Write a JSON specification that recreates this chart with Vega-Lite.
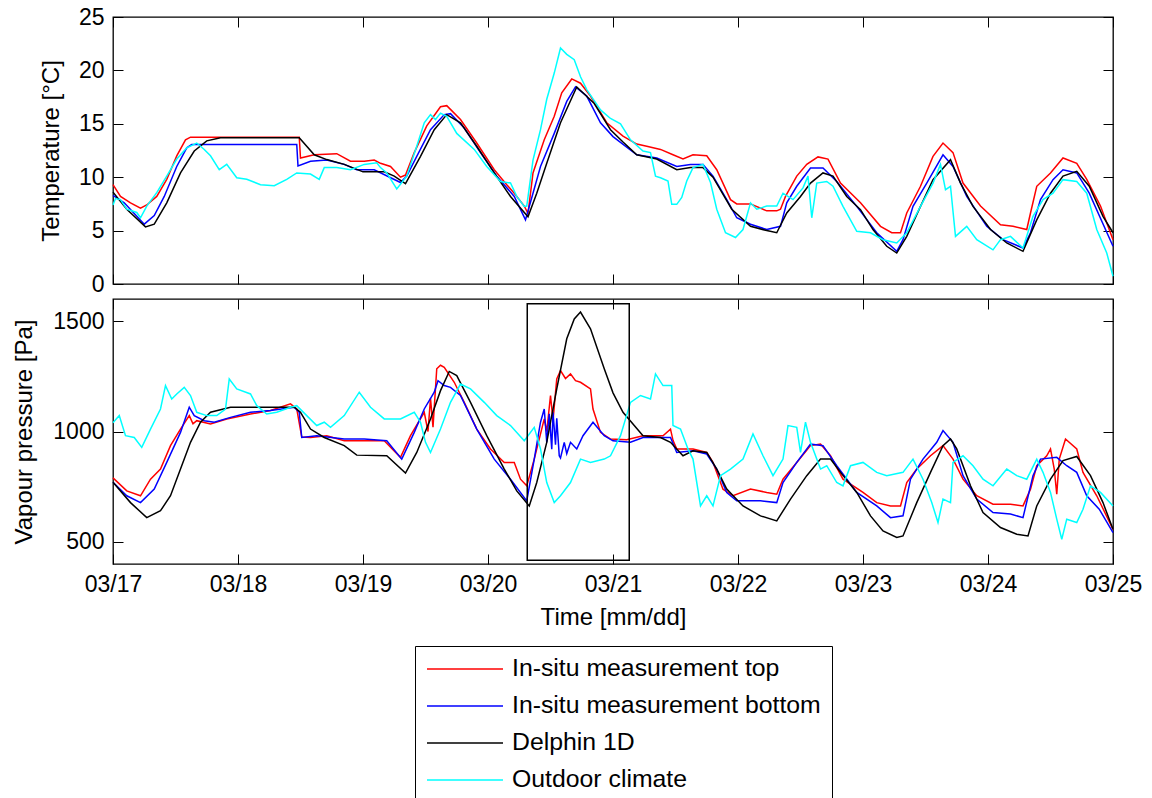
{
"$schema": "https://vega.github.io/schema/vega-lite/v6.json",
"padding": {"left": 12, "top": 5, "right": 5, "bottom": 2},
"spacing": 0,
"datasets": {
"T": [
{"s":"t","d":0,"v":9.3},{"s":"t","d":0.06,"v":8.2},{"s":"t","d":0.14,"v":7.6},{"s":"t","d":0.22,"v":7.1},{"s":"t","d":0.27,"v":7.4},{"s":"t","d":0.35,"v":8.2},{"s":"t","d":0.43,"v":9.8},{"s":"t","d":0.51,"v":12.0},{"s":"t","d":0.58,"v":13.5},{"s":"t","d":0.62,"v":13.75},{"s":"t","d":1.0,"v":13.75},{"s":"t","d":1.49,"v":13.75},{"s":"t","d":1.5,"v":11.8},{"s":"t","d":1.61,"v":12.1},{"s":"t","d":1.79,"v":12.2},{"s":"t","d":1.9,"v":11.5},{"s":"t","d":2.01,"v":11.5},{"s":"t","d":2.09,"v":11.6},{"s":"t","d":2.14,"v":11.3},{"s":"t","d":2.22,"v":11.0},{"s":"t","d":2.3,"v":10.0},{"s":"t","d":2.34,"v":10.2},{"s":"t","d":2.41,"v":12.3},{"s":"t","d":2.51,"v":14.8},{"s":"t","d":2.62,"v":16.6},{"s":"t","d":2.67,"v":16.7},{"s":"t","d":2.78,"v":15.4},{"s":"t","d":2.91,"v":13.2},{"s":"t","d":3.05,"v":10.7},{"s":"t","d":3.15,"v":9.3},{"s":"t","d":3.21,"v":8.5},{"s":"t","d":3.29,"v":7.3},{"s":"t","d":3.32,"v":6.6},{"s":"t","d":3.36,"v":10.4},{"s":"t","d":3.45,"v":13.5},{"s":"t","d":3.53,"v":15.7},{"s":"t","d":3.59,"v":17.9},{"s":"t","d":3.67,"v":19.2},{"s":"t","d":3.74,"v":18.8},{"s":"t","d":3.82,"v":17.6},{"s":"t","d":3.95,"v":15.1},{"s":"t","d":4.08,"v":13.85},{"s":"t","d":4.19,"v":13.1},{"s":"t","d":4.27,"v":12.9},{"s":"t","d":4.38,"v":12.6},{"s":"t","d":4.48,"v":12.1},{"s":"t","d":4.56,"v":11.7},{"s":"t","d":4.64,"v":12.1},{"s":"t","d":4.75,"v":12.0},{"s":"t","d":4.83,"v":10.7},{"s":"t","d":4.94,"v":7.9},{"s":"t","d":4.99,"v":7.5},{"s":"t","d":5.1,"v":7.5},{"s":"t","d":5.23,"v":6.85},{"s":"t","d":5.31,"v":6.85},{"s":"t","d":5.34,"v":7.0},{"s":"t","d":5.38,"v":8.2},{"s":"t","d":5.47,"v":10.1},{"s":"t","d":5.55,"v":11.2},{"s":"t","d":5.64,"v":11.9},{"s":"t","d":5.72,"v":11.7},{"s":"t","d":5.82,"v":9.45},{"s":"t","d":5.98,"v":7.6},{"s":"t","d":6.14,"v":5.4},{"s":"t","d":6.23,"v":4.8},{"s":"t","d":6.3,"v":4.8},{"s":"t","d":6.35,"v":6.65},{"s":"t","d":6.46,"v":9.15},{"s":"t","d":6.56,"v":11.95},{"s":"t","d":6.64,"v":13.2},{"s":"t","d":6.72,"v":12.3},{"s":"t","d":6.8,"v":9.45},{"s":"t","d":6.94,"v":7.3},{"s":"t","d":7.1,"v":5.55},{"s":"t","d":7.2,"v":5.4},{"s":"t","d":7.31,"v":5.1},{"s":"t","d":7.34,"v":6.65},{"s":"t","d":7.39,"v":9.15},{"s":"t","d":7.5,"v":10.4},{"s":"t","d":7.6,"v":11.8},{"s":"t","d":7.71,"v":11.3},{"s":"t","d":7.79,"v":9.8},{"s":"t","d":7.9,"v":7.3},{"s":"t","d":8.0,"v":4.15},
{"s":"b","d":0,"v":8.3},{"s":"b","d":0.09,"v":7.6},{"s":"b","d":0.25,"v":5.6},{"s":"b","d":0.33,"v":6.4},{"s":"b","d":0.41,"v":8.2},{"s":"b","d":0.51,"v":11.0},{"s":"b","d":0.59,"v":12.75},{"s":"b","d":0.63,"v":13.07},{"s":"b","d":1.47,"v":13.07},{"s":"b","d":1.48,"v":11.05},{"s":"b","d":1.58,"v":11.5},{"s":"b","d":1.71,"v":11.6},{"s":"b","d":1.85,"v":11.2},{"s":"b","d":1.95,"v":10.7},{"s":"b","d":2.09,"v":10.7},{"s":"b","d":2.3,"v":9.5},{"s":"b","d":2.35,"v":10.1},{"s":"b","d":2.43,"v":11.95},{"s":"b","d":2.54,"v":14.45},{"s":"b","d":2.65,"v":15.86},{"s":"b","d":2.7,"v":15.95},{"s":"b","d":2.81,"v":14.6},{"s":"b","d":2.94,"v":12.3},{"s":"b","d":3.07,"v":10.1},{"s":"b","d":3.21,"v":8.2},{"s":"b","d":3.3,"v":6.0},{"s":"b","d":3.36,"v":8.5},{"s":"b","d":3.42,"v":11.0},{"s":"b","d":3.53,"v":14.1},{"s":"b","d":3.63,"v":17.1},{"s":"b","d":3.7,"v":18.45},{"s":"b","d":3.79,"v":17.6},{"s":"b","d":3.9,"v":15.1},{"s":"b","d":4.0,"v":13.8},{"s":"b","d":4.19,"v":12.1},{"s":"b","d":4.35,"v":11.8},{"s":"b","d":4.51,"v":11.0},{"s":"b","d":4.62,"v":11.2},{"s":"b","d":4.72,"v":11.2},{"s":"b","d":4.8,"v":10.1},{"s":"b","d":4.91,"v":7.9},{"s":"b","d":4.99,"v":6.2},{"s":"b","d":5.1,"v":5.6},{"s":"b","d":5.23,"v":5.1},{"s":"b","d":5.34,"v":5.4},{"s":"b","d":5.39,"v":7.6},{"s":"b","d":5.47,"v":9.15},{"s":"b","d":5.58,"v":10.86},{"s":"b","d":5.68,"v":10.86},{"s":"b","d":5.79,"v":9.6},{"s":"b","d":5.95,"v":7.27},{"s":"b","d":6.11,"v":4.8},{"s":"b","d":6.27,"v":3.06},{"s":"b","d":6.32,"v":4.15},{"s":"b","d":6.4,"v":7.27},{"s":"b","d":6.51,"v":9.45},{"s":"b","d":6.64,"v":12.1},{"s":"b","d":6.72,"v":11.0},{"s":"b","d":6.83,"v":8.2},{"s":"b","d":6.99,"v":5.4},{"s":"b","d":7.12,"v":4.15},{"s":"b","d":7.28,"v":3.37},{"s":"b","d":7.34,"v":4.8},{"s":"b","d":7.42,"v":7.9},{"s":"b","d":7.52,"v":9.77},{"s":"b","d":7.6,"v":10.7},{"s":"b","d":7.71,"v":10.4},{"s":"b","d":7.81,"v":8.5},{"s":"b","d":8.0,"v":3.53},
{"s":"c","d":0,"v":8.6},{"s":"c","d":0.11,"v":7.0},{"s":"c","d":0.26,"v":5.35},{"s":"c","d":0.33,"v":5.6},{"s":"c","d":0.43,"v":7.6},{"s":"c","d":0.54,"v":10.4},{"s":"c","d":0.65,"v":12.45},{"s":"c","d":0.75,"v":13.4},{"s":"c","d":0.86,"v":13.7},{"s":"c","d":1.49,"v":13.7},{"s":"c","d":1.61,"v":12.1},{"s":"c","d":1.71,"v":11.65},{"s":"c","d":1.85,"v":11.2},{"s":"c","d":2.0,"v":10.5},{"s":"c","d":2.17,"v":10.5},{"s":"c","d":2.25,"v":10.1},{"s":"c","d":2.34,"v":9.4},{"s":"c","d":2.46,"v":11.95},{"s":"c","d":2.57,"v":14.45},{"s":"c","d":2.67,"v":15.86},{"s":"c","d":2.78,"v":15.1},{"s":"c","d":2.91,"v":12.9},{"s":"c","d":3.05,"v":10.4},{"s":"c","d":3.18,"v":8.2},{"s":"c","d":3.32,"v":6.3},{"s":"c","d":3.39,"v":8.5},{"s":"c","d":3.47,"v":11.3},{"s":"c","d":3.58,"v":15.1},{"s":"c","d":3.71,"v":18.45},{"s":"c","d":3.85,"v":16.9},{"s":"c","d":3.98,"v":14.45},{"s":"c","d":4.08,"v":13.3},{"s":"c","d":4.19,"v":12.1},{"s":"c","d":4.35,"v":11.7},{"s":"c","d":4.51,"v":10.7},{"s":"c","d":4.62,"v":10.9},{"s":"c","d":4.72,"v":10.9},{"s":"c","d":4.8,"v":10.0},{"s":"c","d":4.95,"v":7.0},{"s":"c","d":5.1,"v":5.4},{"s":"c","d":5.23,"v":5.0},{"s":"c","d":5.31,"v":4.8},{"s":"c","d":5.39,"v":6.65},{"s":"c","d":5.5,"v":8.2},{"s":"c","d":5.58,"v":9.45},{"s":"c","d":5.68,"v":10.4},{"s":"c","d":5.76,"v":10.1},{"s":"c","d":5.87,"v":8.2},{"s":"c","d":5.98,"v":6.96},{"s":"c","d":6.08,"v":5.1},{"s":"c","d":6.19,"v":3.53},{"s":"c","d":6.27,"v":2.9},{"s":"c","d":6.35,"v":4.46},{"s":"c","d":6.46,"v":7.27},{"s":"c","d":6.56,"v":9.77},{"s":"c","d":6.7,"v":11.64},{"s":"c","d":6.78,"v":9.45},{"s":"c","d":6.88,"v":7.27},{"s":"c","d":7.02,"v":5.1},{"s":"c","d":7.15,"v":3.84},{"s":"c","d":7.28,"v":3.06},{"s":"c","d":7.39,"v":6.0},{"s":"c","d":7.5,"v":8.5},{"s":"c","d":7.6,"v":10.1},{"s":"c","d":7.71,"v":10.55},{"s":"c","d":7.81,"v":9.15},{"s":"c","d":7.92,"v":6.34},{"s":"c","d":8.0,"v":4.8},
{"s":"o","d":0,"v":7.4},{"s":"o","d":0.02,"v":8.0},{"s":"o","d":0.06,"v":7.9},{"s":"o","d":0.11,"v":7.0},{"s":"o","d":0.19,"v":6.7},{"s":"o","d":0.22,"v":6.2},{"s":"o","d":0.27,"v":7.3},{"s":"o","d":0.35,"v":8.55},{"s":"o","d":0.43,"v":10.1},{"s":"o","d":0.51,"v":11.7},{"s":"o","d":0.59,"v":12.75},{"s":"o","d":0.67,"v":13.2},{"s":"o","d":0.73,"v":12.6},{"s":"o","d":0.78,"v":12.0},{"s":"o","d":0.85,"v":10.7},{"s":"o","d":0.91,"v":11.2},{"s":"o","d":0.99,"v":9.95},{"s":"o","d":1.07,"v":9.8},{"s":"o","d":1.18,"v":9.3},{"s":"o","d":1.29,"v":9.2},{"s":"o","d":1.39,"v":9.8},{"s":"o","d":1.47,"v":10.4},{"s":"o","d":1.58,"v":10.3},{"s":"o","d":1.65,"v":9.8},{"s":"o","d":1.69,"v":10.9},{"s":"o","d":1.79,"v":10.9},{"s":"o","d":1.9,"v":10.7},{"s":"o","d":2.01,"v":11.2},{"s":"o","d":2.11,"v":11.35},{"s":"o","d":2.14,"v":10.9},{"s":"o","d":2.19,"v":10.4},{"s":"o","d":2.27,"v":8.9},{"s":"o","d":2.35,"v":10.1},{"s":"o","d":2.43,"v":12.9},{"s":"o","d":2.49,"v":15.1},{"s":"o","d":2.54,"v":15.86},{"s":"o","d":2.58,"v":15.4},{"s":"o","d":2.62,"v":16.0},{"s":"o","d":2.67,"v":15.7},{"s":"o","d":2.75,"v":14.1},{"s":"o","d":2.89,"v":12.6},{"s":"o","d":2.99,"v":11.0},{"s":"o","d":3.1,"v":9.6},{"s":"o","d":3.18,"v":9.46},{"s":"o","d":3.23,"v":8.2},{"s":"o","d":3.29,"v":7.27},{"s":"o","d":3.31,"v":7.3},{"s":"o","d":3.36,"v":11.6},{"s":"o","d":3.42,"v":14.45},{"s":"o","d":3.47,"v":17.3},{"s":"o","d":3.53,"v":19.75},{"s":"o","d":3.58,"v":22.1},{"s":"o","d":3.63,"v":21.5},{"s":"o","d":3.69,"v":21.0},{"s":"o","d":3.74,"v":19.4},{"s":"o","d":3.79,"v":18.2},{"s":"o","d":3.9,"v":16.3},{"s":"o","d":3.98,"v":15.5},{"s":"o","d":4.06,"v":15.0},{"s":"o","d":4.14,"v":13.5},{"s":"o","d":4.24,"v":12.45},{"s":"o","d":4.3,"v":12.3},{"s":"o","d":4.34,"v":10.1},{"s":"o","d":4.38,"v":9.95},{"s":"o","d":4.44,"v":9.64},{"s":"o","d":4.47,"v":7.46},{"s":"o","d":4.51,"v":7.46},{"s":"o","d":4.55,"v":8.1},{"s":"o","d":4.59,"v":9.64},{"s":"o","d":4.64,"v":10.9},{"s":"o","d":4.72,"v":11.2},{"s":"o","d":4.78,"v":9.5},{"s":"o","d":4.83,"v":7.0},{"s":"o","d":4.9,"v":4.8},{"s":"o","d":4.98,"v":4.35},{"s":"o","d":5.04,"v":5.1},{"s":"o","d":5.1,"v":7.6},{"s":"o","d":5.15,"v":7.0},{"s":"o","d":5.23,"v":7.3},{"s":"o","d":5.31,"v":7.3},{"s":"o","d":5.36,"v":8.5},{"s":"o","d":5.44,"v":7.9},{"s":"o","d":5.52,"v":9.0},{"s":"o","d":5.56,"v":10.1},{"s":"o","d":5.59,"v":6.2},{"s":"o","d":5.63,"v":9.45},{"s":"o","d":5.71,"v":9.6},{"s":"o","d":5.76,"v":9.15},{"s":"o","d":5.84,"v":7.27},{"s":"o","d":5.95,"v":4.93},{"s":"o","d":6.06,"v":4.8},{"s":"o","d":6.16,"v":4.15},{"s":"o","d":6.27,"v":3.84},{"s":"o","d":6.35,"v":4.8},{"s":"o","d":6.46,"v":7.27},{"s":"o","d":6.56,"v":9.45},{"s":"o","d":6.62,"v":11.2},{"s":"o","d":6.66,"v":8.83},{"s":"o","d":6.7,"v":9.15},{"s":"o","d":6.74,"v":4.46},{"s":"o","d":6.83,"v":5.4},{"s":"o","d":6.91,"v":4.15},{"s":"o","d":7.04,"v":3.2},{"s":"o","d":7.1,"v":4.15},{"s":"o","d":7.18,"v":4.46},{"s":"o","d":7.28,"v":3.37},{"s":"o","d":7.36,"v":6.34},{"s":"o","d":7.44,"v":7.9},{"s":"o","d":7.52,"v":8.5},{"s":"o","d":7.6,"v":9.77},{"s":"o","d":7.71,"v":9.6},{"s":"o","d":7.79,"v":8.5},{"s":"o","d":7.87,"v":5.1},{"s":"o","d":7.95,"v":2.9},{"s":"o","d":8.0,"v":0.72}
],
"P": [
{"s":"t","d":0,"v":790},{"s":"t","d":0.11,"v":731},{"s":"t","d":0.22,"v":709},{"s":"t","d":0.3,"v":784},{"s":"t","d":0.38,"v":830},{"s":"t","d":0.46,"v":936},{"s":"t","d":0.54,"v":1011},{"s":"t","d":0.61,"v":1072},{"s":"t","d":0.64,"v":1035},{"s":"t","d":0.67,"v":1049},{"s":"t","d":0.78,"v":1034},{"s":"t","d":0.91,"v":1057},{"s":"t","d":1.1,"v":1079},{"s":"t","d":1.26,"v":1095},{"s":"t","d":1.42,"v":1125},{"s":"t","d":1.47,"v":1102},{"s":"t","d":1.51,"v":975},{"s":"t","d":1.58,"v":973},{"s":"t","d":1.71,"v":981},{"s":"t","d":1.85,"v":958},{"s":"t","d":2.01,"v":958},{"s":"t","d":2.17,"v":958},{"s":"t","d":2.3,"v":883},{"s":"t","d":2.38,"v":981},{"s":"t","d":2.49,"v":1087},{"s":"t","d":2.52,"v":1000},{"s":"t","d":2.54,"v":1150},{"s":"t","d":2.56,"v":1020},{"s":"t","d":2.59,"v":1284},{"s":"t","d":2.62,"v":1300},{"s":"t","d":2.65,"v":1291},{"s":"t","d":2.73,"v":1223},{"s":"t","d":2.81,"v":1132},{"s":"t","d":2.91,"v":1011},{"s":"t","d":3.02,"v":921},{"s":"t","d":3.13,"v":860},{"s":"t","d":3.21,"v":860},{"s":"t","d":3.26,"v":784},{"s":"t","d":3.31,"v":754},{"s":"t","d":3.37,"v":875},{"s":"t","d":3.45,"v":1057},{"s":"t","d":3.47,"v":1000},{"s":"t","d":3.5,"v":1163},{"s":"t","d":3.52,"v":1050},{"s":"t","d":3.55,"v":1238},{"s":"t","d":3.58,"v":1276},{"s":"t","d":3.62,"v":1240},{"s":"t","d":3.66,"v":1261},{"s":"t","d":3.7,"v":1230},{"s":"t","d":3.74,"v":1223},{"s":"t","d":3.82,"v":1193},{"s":"t","d":3.84,"v":1102},{"s":"t","d":3.9,"v":996},{"s":"t","d":3.98,"v":966},{"s":"t","d":4.11,"v":963},{"s":"t","d":4.24,"v":981},{"s":"t","d":4.4,"v":981},{"s":"t","d":4.46,"v":1011},{"s":"t","d":4.48,"v":960},{"s":"t","d":4.51,"v":921},{"s":"t","d":4.64,"v":921},{"s":"t","d":4.75,"v":905},{"s":"t","d":4.8,"v":860},{"s":"t","d":4.88,"v":739},{"s":"t","d":4.96,"v":709},{"s":"t","d":5.1,"v":739},{"s":"t","d":5.23,"v":724},{"s":"t","d":5.31,"v":716},{"s":"t","d":5.36,"v":784},{"s":"t","d":5.47,"v":860},{"s":"t","d":5.58,"v":936},{"s":"t","d":5.66,"v":943},{"s":"t","d":5.74,"v":890},{"s":"t","d":5.84,"v":784},{"s":"t","d":6.0,"v":724},{"s":"t","d":6.11,"v":678},{"s":"t","d":6.22,"v":663},{"s":"t","d":6.3,"v":663},{"s":"t","d":6.35,"v":769},{"s":"t","d":6.43,"v":830},{"s":"t","d":6.54,"v":890},{"s":"t","d":6.64,"v":936},{"s":"t","d":6.72,"v":875},{"s":"t","d":6.8,"v":784},{"s":"t","d":6.91,"v":709},{"s":"t","d":7.04,"v":671},{"s":"t","d":7.18,"v":671},{"s":"t","d":7.28,"v":663},{"s":"t","d":7.34,"v":739},{"s":"t","d":7.39,"v":845},{"s":"t","d":7.47,"v":890},{"s":"t","d":7.5,"v":921},{"s":"t","d":7.53,"v":830},{"s":"t","d":7.55,"v":716},{"s":"t","d":7.57,"v":875},{"s":"t","d":7.62,"v":966},{"s":"t","d":7.71,"v":921},{"s":"t","d":7.76,"v":815},{"s":"t","d":7.87,"v":709},{"s":"t","d":8.0,"v":557},
{"s":"b","d":0,"v":770},{"s":"b","d":0.11,"v":709},{"s":"b","d":0.22,"v":678},{"s":"b","d":0.33,"v":739},{"s":"b","d":0.43,"v":860},{"s":"b","d":0.54,"v":996},{"s":"b","d":0.61,"v":1110},{"s":"b","d":0.65,"v":1072},{"s":"b","d":0.73,"v":1049},{"s":"b","d":0.81,"v":1042},{"s":"b","d":0.94,"v":1064},{"s":"b","d":1.1,"v":1087},{"s":"b","d":1.26,"v":1095},{"s":"b","d":1.45,"v":1110},{"s":"b","d":1.49,"v":1087},{"s":"b","d":1.51,"v":973},{"s":"b","d":1.63,"v":981},{"s":"b","d":1.85,"v":966},{"s":"b","d":2.01,"v":966},{"s":"b","d":2.19,"v":958},{"s":"b","d":2.31,"v":875},{"s":"b","d":2.41,"v":996},{"s":"b","d":2.49,"v":1102},{"s":"b","d":2.57,"v":1178},{"s":"b","d":2.6,"v":1230},{"s":"b","d":2.65,"v":1208},{"s":"b","d":2.7,"v":1200},{"s":"b","d":2.78,"v":1163},{"s":"b","d":2.91,"v":1011},{"s":"b","d":3.05,"v":875},{"s":"b","d":3.18,"v":784},{"s":"b","d":3.31,"v":686},{"s":"b","d":3.37,"v":875},{"s":"b","d":3.42,"v":1042},{"s":"b","d":3.45,"v":1102},{"s":"b","d":3.47,"v":950},{"s":"b","d":3.49,"v":1080},{"s":"b","d":3.51,"v":920},{"s":"b","d":3.52,"v":1087},{"s":"b","d":3.54,"v":940},{"s":"b","d":3.55,"v":1060},{"s":"b","d":3.57,"v":890},{"s":"b","d":3.58,"v":880},{"s":"b","d":3.61,"v":951},{"s":"b","d":3.63,"v":900},{"s":"b","d":3.66,"v":951},{"s":"b","d":3.71,"v":921},{"s":"b","d":3.76,"v":981},{"s":"b","d":3.84,"v":1042},{"s":"b","d":3.93,"v":981},{"s":"b","d":4.0,"v":958},{"s":"b","d":4.14,"v":951},{"s":"b","d":4.24,"v":973},{"s":"b","d":4.46,"v":973},{"s":"b","d":4.51,"v":905},{"s":"b","d":4.64,"v":913},{"s":"b","d":4.75,"v":898},{"s":"b","d":4.83,"v":830},{"s":"b","d":4.91,"v":724},{"s":"b","d":4.99,"v":686},{"s":"b","d":5.18,"v":686},{"s":"b","d":5.31,"v":678},{"s":"b","d":5.36,"v":769},{"s":"b","d":5.47,"v":860},{"s":"b","d":5.58,"v":943},{"s":"b","d":5.68,"v":936},{"s":"b","d":5.79,"v":845},{"s":"b","d":5.95,"v":724},{"s":"b","d":6.11,"v":663},{"s":"b","d":6.22,"v":610},{"s":"b","d":6.32,"v":618},{"s":"b","d":6.38,"v":784},{"s":"b","d":6.48,"v":875},{"s":"b","d":6.59,"v":951},{"s":"b","d":6.64,"v":1004},{"s":"b","d":6.72,"v":951},{"s":"b","d":6.8,"v":800},{"s":"b","d":6.91,"v":694},{"s":"b","d":7.04,"v":633},{"s":"b","d":7.18,"v":626},{"s":"b","d":7.28,"v":610},{"s":"b","d":7.36,"v":800},{"s":"b","d":7.42,"v":875},{"s":"b","d":7.55,"v":883},{"s":"b","d":7.63,"v":845},{"s":"b","d":7.71,"v":815},{"s":"b","d":7.79,"v":709},{"s":"b","d":7.89,"v":648},{"s":"b","d":8.0,"v":542},
{"s":"c","d":0,"v":770},{"s":"c","d":0.14,"v":678},{"s":"c","d":0.27,"v":610},{"s":"c","d":0.38,"v":641},{"s":"c","d":0.46,"v":709},{"s":"c","d":0.54,"v":830},{"s":"c","d":0.62,"v":951},{"s":"c","d":0.7,"v":1042},{"s":"c","d":0.78,"v":1087},{"s":"c","d":0.94,"v":1110},{"s":"c","d":1.45,"v":1110},{"s":"c","d":1.5,"v":1087},{"s":"c","d":1.58,"v":1011},{"s":"c","d":1.69,"v":973},{"s":"c","d":1.85,"v":936},{"s":"c","d":1.95,"v":893},{"s":"c","d":2.19,"v":890},{"s":"c","d":2.34,"v":812},{"s":"c","d":2.43,"v":905},{"s":"c","d":2.54,"v":1057},{"s":"c","d":2.62,"v":1185},{"s":"c","d":2.69,"v":1272},{"s":"c","d":2.75,"v":1253},{"s":"c","d":2.86,"v":1132},{"s":"c","d":2.99,"v":981},{"s":"c","d":3.13,"v":830},{"s":"c","d":3.23,"v":731},{"s":"c","d":3.33,"v":663},{"s":"c","d":3.39,"v":769},{"s":"c","d":3.47,"v":951},{"s":"c","d":3.55,"v":1193},{"s":"c","d":3.63,"v":1420},{"s":"c","d":3.69,"v":1510},{"s":"c","d":3.74,"v":1541},{"s":"c","d":3.82,"v":1465},{"s":"c","d":3.93,"v":1284},{"s":"c","d":4.0,"v":1175},{"s":"c","d":4.08,"v":1087},{"s":"c","d":4.24,"v":981},{"s":"c","d":4.38,"v":973},{"s":"c","d":4.46,"v":951},{"s":"c","d":4.56,"v":890},{"s":"c","d":4.64,"v":913},{"s":"c","d":4.75,"v":905},{"s":"c","d":4.83,"v":830},{"s":"c","d":4.91,"v":739},{"s":"c","d":5.04,"v":663},{"s":"c","d":5.18,"v":618},{"s":"c","d":5.31,"v":595},{"s":"c","d":5.42,"v":694},{"s":"c","d":5.55,"v":800},{"s":"c","d":5.66,"v":875},{"s":"c","d":5.74,"v":875},{"s":"c","d":5.82,"v":815},{"s":"c","d":5.95,"v":724},{"s":"c","d":6.06,"v":618},{"s":"c","d":6.16,"v":550},{"s":"c","d":6.27,"v":520},{"s":"c","d":6.32,"v":527},{"s":"c","d":6.43,"v":678},{"s":"c","d":6.54,"v":815},{"s":"c","d":6.64,"v":936},{"s":"c","d":6.7,"v":966},{"s":"c","d":6.75,"v":921},{"s":"c","d":6.86,"v":754},{"s":"c","d":6.96,"v":633},{"s":"c","d":7.1,"v":565},{"s":"c","d":7.23,"v":535},{"s":"c","d":7.32,"v":527},{"s":"c","d":7.39,"v":663},{"s":"c","d":7.5,"v":784},{"s":"c","d":7.6,"v":868},{"s":"c","d":7.71,"v":887},{"s":"c","d":7.82,"v":800},{"s":"c","d":7.92,"v":678},{"s":"c","d":8.0,"v":557},
{"s":"o","d":0,"v":1040},{"s":"o","d":0.05,"v":1072},{"s":"o","d":0.1,"v":981},{"s":"o","d":0.17,"v":973},{"s":"o","d":0.23,"v":928},{"s":"o","d":0.3,"v":1011},{"s":"o","d":0.38,"v":1102},{"s":"o","d":0.42,"v":1208},{"s":"o","d":0.47,"v":1147},{"s":"o","d":0.51,"v":1170},{"s":"o","d":0.57,"v":1200},{"s":"o","d":0.62,"v":1163},{"s":"o","d":0.67,"v":1087},{"s":"o","d":0.75,"v":1072},{"s":"o","d":0.83,"v":1072},{"s":"o","d":0.9,"v":1102},{"s":"o","d":0.93,"v":1238},{"s":"o","d":0.99,"v":1193},{"s":"o","d":1.1,"v":1170},{"s":"o","d":1.15,"v":1117},{"s":"o","d":1.23,"v":1079},{"s":"o","d":1.31,"v":1087},{"s":"o","d":1.42,"v":1110},{"s":"o","d":1.47,"v":1117},{"s":"o","d":1.55,"v":1072},{"s":"o","d":1.63,"v":1027},{"s":"o","d":1.69,"v":1042},{"s":"o","d":1.74,"v":1019},{"s":"o","d":1.85,"v":1072},{"s":"o","d":1.97,"v":1178},{"s":"o","d":2.06,"v":1110},{"s":"o","d":2.17,"v":1057},{"s":"o","d":2.3,"v":1057},{"s":"o","d":2.41,"v":1087},{"s":"o","d":2.46,"v":1042},{"s":"o","d":2.5,"v":951},{"s":"o","d":2.54,"v":905},{"s":"o","d":2.62,"v":1011},{"s":"o","d":2.7,"v":1132},{"s":"o","d":2.78,"v":1215},{"s":"o","d":2.86,"v":1193},{"s":"o","d":2.97,"v":1132},{"s":"o","d":3.07,"v":1072},{"s":"o","d":3.18,"v":1027},{"s":"o","d":3.29,"v":958},{"s":"o","d":3.37,"v":1019},{"s":"o","d":3.42,"v":921},{"s":"o","d":3.47,"v":769},{"s":"o","d":3.53,"v":678},{"s":"o","d":3.58,"v":709},{"s":"o","d":3.66,"v":769},{"s":"o","d":3.74,"v":875},{"s":"o","d":3.82,"v":860},{"s":"o","d":3.93,"v":875},{"s":"o","d":3.98,"v":890},{"s":"o","d":4.06,"v":981},{"s":"o","d":4.14,"v":1132},{"s":"o","d":4.22,"v":1163},{"s":"o","d":4.3,"v":1147},{"s":"o","d":4.34,"v":1261},{"s":"o","d":4.4,"v":1208},{"s":"o","d":4.47,"v":1208},{"s":"o","d":4.48,"v":1027},{"s":"o","d":4.54,"v":1011},{"s":"o","d":4.6,"v":921},{"s":"o","d":4.64,"v":875},{"s":"o","d":4.7,"v":663},{"s":"o","d":4.75,"v":709},{"s":"o","d":4.8,"v":663},{"s":"o","d":4.86,"v":800},{"s":"o","d":4.94,"v":830},{"s":"o","d":5.04,"v":875},{"s":"o","d":5.12,"v":989},{"s":"o","d":5.2,"v":890},{"s":"o","d":5.28,"v":800},{"s":"o","d":5.36,"v":875},{"s":"o","d":5.4,"v":1027},{"s":"o","d":5.47,"v":1019},{"s":"o","d":5.5,"v":905},{"s":"o","d":5.54,"v":1042},{"s":"o","d":5.58,"v":951},{"s":"o","d":5.66,"v":830},{"s":"o","d":5.71,"v":845},{"s":"o","d":5.79,"v":769},{"s":"o","d":5.84,"v":754},{"s":"o","d":5.9,"v":845},{"s":"o","d":6.0,"v":860},{"s":"o","d":6.11,"v":815},{"s":"o","d":6.19,"v":800},{"s":"o","d":6.32,"v":815},{"s":"o","d":6.4,"v":875},{"s":"o","d":6.48,"v":784},{"s":"o","d":6.55,"v":678},{"s":"o","d":6.6,"v":588},{"s":"o","d":6.64,"v":694},{"s":"o","d":6.7,"v":678},{"s":"o","d":6.72,"v":860},{"s":"o","d":6.8,"v":890},{"s":"o","d":6.88,"v":845},{"s":"o","d":6.96,"v":784},{"s":"o","d":7.04,"v":754},{"s":"o","d":7.15,"v":830},{"s":"o","d":7.23,"v":800},{"s":"o","d":7.31,"v":784},{"s":"o","d":7.39,"v":875},{"s":"o","d":7.44,"v":815},{"s":"o","d":7.5,"v":724},{"s":"o","d":7.55,"v":603},{"s":"o","d":7.59,"v":512},{"s":"o","d":7.63,"v":603},{"s":"o","d":7.71,"v":588},{"s":"o","d":7.76,"v":648},{"s":"o","d":7.82,"v":754},{"s":"o","d":7.9,"v":724},{"s":"o","d":8.0,"v":663}
],
"R": [{"d1":3.314,"d2":4.13,"p1":417,"p2":1578}]
},
"vconcat": [
{
"width": 1000, "height": 267,
"resolve": {"axis": {"x": "independent", "y": "independent"}},
"layer": [
{"data": {"name": "T"}, "transform": [{"filter": "datum.s=='t'||datum.s=='b'"}],
"mark": {"type": "line", "strokeWidth": 1.5},
"encoding": {
"x": {"field": "d", "type": "quantitative", "scale": {"domain": [0, 8], "nice": false}, "axis": {"orient": "bottom", "values": [0,1,2,3,4,5,6,7,8], "labels": false, "title": null}},
"y": {"field": "v", "type": "quantitative", "scale": {"domain": [0, 25], "nice": false}, "axis": {"orient": "left", "values": [0,5,10,15,20,25], "format": "d", "title": "Temperature [°C]", "titlePadding": 15}},
"color": {"field": "s", "type": "nominal", "scale": {"domain": ["t","b","c","o"], "range": ["#ff0000","#0000ff","#000000","#00ffff"]},
"legend": {"orient": "none", "legendX": 302, "legendY": 629, "title": null, "direction": "vertical", "symbolType": "stroke", "symbolSize": 5776, "symbolStrokeWidth": 1.5, "labelFontSize": 24.8, "labelFont": "Liberation Sans", "labelColor": "black", "labelOffset": 8, "labelLimit": 500, "padding": 11, "strokeColor": "black", "fillColor": "white", "rowPadding": 12, "clipHeight": 24, "labelExpr": "datum.label=='t'?'In-situ measurement top':datum.label=='b'?'In-situ measurement bottom':datum.label=='c'?'Delphin 1D':'Outdoor climate'"}}
}},
{"data": {"name": "T"}, "transform": [{"filter": "datum.s=='c'||datum.s=='o'"}],
"mark": {"type": "line", "strokeWidth": 1.5},
"encoding": {
"x": {"field": "d", "type": "quantitative", "scale": {"domain": [0, 8], "nice": false}, "axis": {"orient": "top", "values": [0,1,2,3,4,5,6,7,8], "labels": false, "title": null}},
"y": {"field": "v", "type": "quantitative", "scale": {"domain": [0, 25], "nice": false}, "axis": {"orient": "right", "values": [0,5,10,15,20,25], "labels": false, "title": null}},
"color": {"field": "s", "type": "nominal", "scale": {"domain": ["t","b","c","o"], "range": ["#ff0000","#0000ff","#000000","#00ffff"]},
"legend": {"orient": "none", "legendX": 302, "legendY": 629, "title": null, "direction": "vertical", "symbolType": "stroke", "symbolSize": 5776, "symbolStrokeWidth": 1.5, "labelFontSize": 24.8, "labelFont": "Liberation Sans", "labelColor": "black", "labelOffset": 8, "labelLimit": 500, "padding": 11, "strokeColor": "black", "fillColor": "white", "rowPadding": 12, "clipHeight": 24, "labelExpr": "datum.label=='t'?'In-situ measurement top':datum.label=='b'?'In-situ measurement bottom':datum.label=='c'?'Delphin 1D':'Outdoor climate'"}}
}}
]
},
{
"width": 1000, "height": 265,
"resolve": {"axis": {"x": "independent", "y": "independent"}},
"layer": [
{"data": {"name": "P"}, "transform": [{"filter": "datum.s=='t'||datum.s=='b'"}],
"mark": {"type": "line", "strokeWidth": 1.5},
"encoding": {
"x": {"field": "d", "type": "quantitative", "scale": {"domain": [0, 8], "nice": false}, "axis": {"orient": "bottom", "values": [0,1,2,3,4,5,6,7,8], "labelExpr": "'03/' + (17 + datum.value)", "title": "Time [mm/dd]", "titlePadding": 9}},
"y": {"field": "v", "type": "quantitative", "scale": {"domain": [400, 1600], "nice": false, "zero": false}, "axis": {"orient": "left", "values": [500,1000,1500], "format": "d", "title": "Vapour pressure [Pa]", "titlePadding": 16}},
"color": {"field": "s", "type": "nominal", "scale": {"domain": ["t","b","c","o"], "range": ["#ff0000","#0000ff","#000000","#00ffff"]},
"legend": {"orient": "none", "legendX": 302, "legendY": 629, "title": null, "direction": "vertical", "symbolType": "stroke", "symbolSize": 5776, "symbolStrokeWidth": 1.5, "labelFontSize": 24.8, "labelFont": "Liberation Sans", "labelColor": "black", "labelOffset": 8, "labelLimit": 500, "padding": 11, "strokeColor": "black", "fillColor": "white", "rowPadding": 12, "clipHeight": 24, "labelExpr": "datum.label=='t'?'In-situ measurement top':datum.label=='b'?'In-situ measurement bottom':datum.label=='c'?'Delphin 1D':'Outdoor climate'"}}
}},
{"data": {"name": "P"}, "transform": [{"filter": "datum.s=='c'||datum.s=='o'"}],
"mark": {"type": "line", "strokeWidth": 1.5},
"encoding": {
"x": {"field": "d", "type": "quantitative", "scale": {"domain": [0, 8], "nice": false}, "axis": {"orient": "top", "values": [0,1,2,3,4,5,6,7,8], "labels": false, "title": null}},
"y": {"field": "v", "type": "quantitative", "scale": {"domain": [400, 1600], "nice": false, "zero": false}, "axis": {"orient": "right", "values": [500,1000,1500], "labels": false, "title": null}},
"color": {"field": "s", "type": "nominal", "scale": {"domain": ["t","b","c","o"], "range": ["#ff0000","#0000ff","#000000","#00ffff"]},
"legend": {"orient": "none", "legendX": 302, "legendY": 629, "title": null, "direction": "vertical", "symbolType": "stroke", "symbolSize": 5776, "symbolStrokeWidth": 1.5, "labelFontSize": 24.8, "labelFont": "Liberation Sans", "labelColor": "black", "labelOffset": 8, "labelLimit": 500, "padding": 11, "strokeColor": "black", "fillColor": "white", "rowPadding": 12, "clipHeight": 24, "labelExpr": "datum.label=='t'?'In-situ measurement top':datum.label=='b'?'In-situ measurement bottom':datum.label=='c'?'Delphin 1D':'Outdoor climate'"}}
}},
{"data": {"name": "R"},
"mark": {"type": "rect", "fill": "transparent", "stroke": "black", "strokeWidth": 1.5},
"encoding": {
"x": {"field": "d1", "type": "quantitative", "scale": {"domain": [0, 8], "nice": false}, "axis": null},
"x2": {"field": "d2"},
"y": {"field": "p1", "type": "quantitative", "scale": {"domain": [400, 1600], "nice": false, "zero": false}, "axis": null},
"y2": {"field": "p2"}
}}
]
}
],
"config": {
"font": "Liberation Sans",
"view": {"stroke": "black", "strokeWidth": 1.3},
"axis": {"grid": false, "domain": false, "ticks": true, "tickColor": "black", "tickSize": -10, "tickWidth": 1, "labelFont": "Liberation Sans", "labelFontSize": 23, "labelColor": "black", "labelPadding": 19, "labelFlush": false, "labelOverlap": false, "labelBound": false, "titleFont": "Liberation Sans", "titleFontSize": 24, "titleFontWeight": "normal", "titleColor": "black", "titlePadding": 12}
}
}
